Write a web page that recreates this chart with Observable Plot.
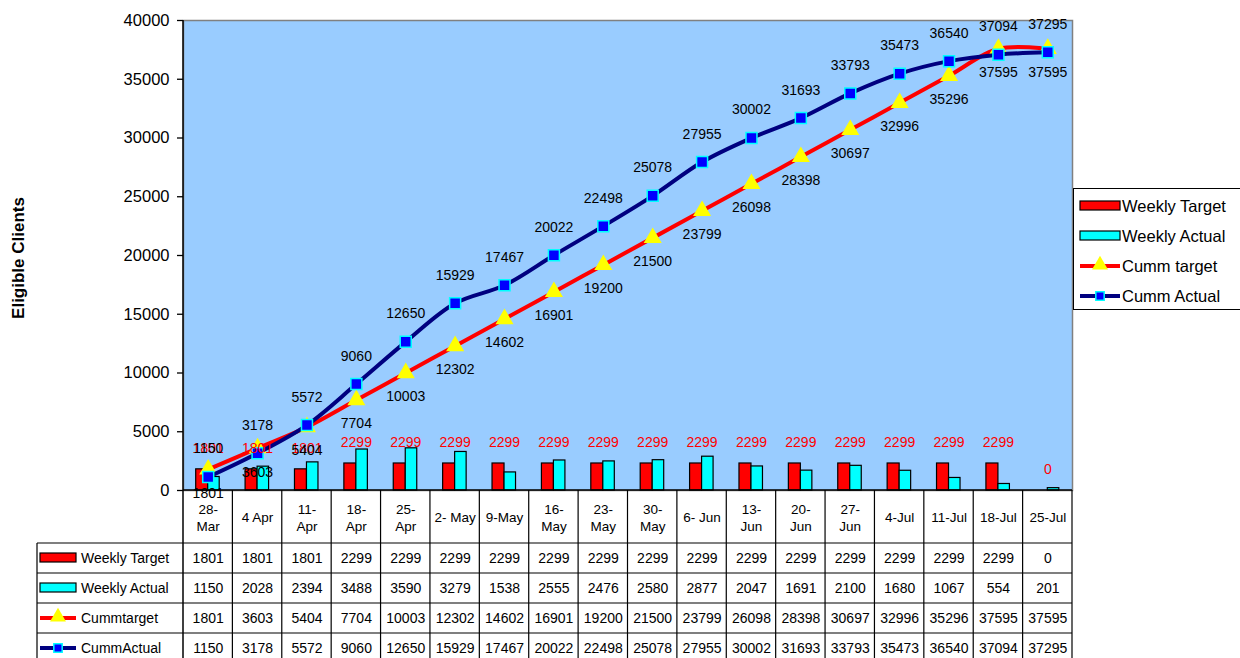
<!DOCTYPE html>
<html>
<head>
<meta charset="utf-8">
<script src="https://cdn.jsdelivr.net/npm/d3@7"></script>
<script src="https://cdn.jsdelivr.net/npm/@observablehq/plot@0.6"></script>
<style>
  html, body { margin: 0; padding: 0; background: #fff; }
  #chart { width: 1240px; height: 658px; overflow: hidden; }
</style>
</head>
<body>
<div id="chart"></div>
<script>
// ---- data ----
const categories = ["28-\nMar","4 Apr","11-\nApr","18-\nApr","25-\nApr","2- May","9-May","16-\nMay","23-\nMay","30-\nMay","6- Jun","13-\nJun","20-\nJun","27-\nJun","4-Jul","11-Jul","18-Jul","25-Jul"];
const weeklyTarget = [1801,1801,1801,2299,2299,2299,2299,2299,2299,2299,2299,2299,2299,2299,2299,2299,2299,0];
const weeklyActual = [1150,2028,2394,3488,3590,3279,1538,2555,2476,2580,2877,2047,1691,2100,1680,1067,554,201];
const cummTarget = [1801,3603,5404,7704,10003,12302,14602,16901,19200,21500,23799,26098,28398,30697,32996,35296,37595,37595];
const cummActual = [1150,3178,5572,9060,12650,15929,17467,20022,22498,25078,27955,30002,31693,33793,35473,36540,37094,37295];
const yTicks = [0,5000,10000,15000,20000,25000,30000,35000,40000];
const seriesNames = ["Weekly Target","Weekly Actual","Cumm target","Cumm Actual"];
const tableRowNames = ["Weekly Target","Weekly Actual","Cummtarget","CummActual"];
const yTitle = "Eligible Clients";

const rows = categories.map((c, i) => ({
  cat: c, wt: weeklyTarget[i], wa: weeklyActual[i], ct: cummTarget[i], ca: cummActual[i]
}));

// ---- layout / style ----
const W = 1240, H = 658;
const mL = 183, mR = 168, mT = 20, mB = 168;
const bw = (W - mL - mR) / categories.length;
const RED = "#ff0000", CYAN = "#00ffff", NAVY = "#000080", BLUE = "#0000ff", YELLOW = "#ffff00";
const FONT = "Liberation Sans, Arial, Helvetica, sans-serif";
const rowH = 30, headH = 53;

function swatch(g, x0, x1, yc, k) {
  if (k < 2) {
    g.append("rect").attr("x", x0).attr("y", yc - 5).attr("width", x1 - x0).attr("height", 9)
      .attr("fill", k === 0 ? RED : CYAN).attr("stroke", "#000").attr("stroke-width", 1.2);
  } else {
    g.append("line").attr("x1", x0).attr("x2", x1).attr("y1", yc).attr("y2", yc)
      .attr("stroke", k === 2 ? RED : NAVY).attr("stroke-width", 4);
    const xm = (x0 + x1) / 2;
    if (k === 2) {
      g.append("path").attr("d", d3.symbol(d3.symbolTriangle, 110)())
        .attr("transform", `translate(${xm},${yc - 1})`).attr("fill", YELLOW);
    } else {
      g.append("path").attr("d", d3.symbol(d3.symbolSquare, 70)())
        .attr("transform", `translate(${xm},${yc})`).attr("fill", BLUE).attr("stroke", CYAN).attr("stroke-width", 1.5);
    }
  }
}

function tableAndLegend(index, scales, values, dimensions) {
  const sx = (scales && scales.x) ? scales.x : (scales.scales && scales.scales.x);
  const left = dimensions.marginLeft;
  const right = dimensions.width - dimensions.marginRight;
  const bottom = dimensions.height - dimensions.marginBottom;
  const top = dimensions.marginTop;
  const g = d3.create("svg:g").attr("font-family", FONT).attr("text-anchor", "start");
  const tableBottom = dimensions.height + 5;
  // vertical column lines
  categories.forEach((c, i) => {
    if (i === 0) return;
    const x0 = sx(c);
    g.append("line").attr("x1", x0).attr("x2", x0).attr("y1", bottom).attr("y2", tableBottom)
      .attr("stroke", "#000").attr("stroke-width", 1.2);
  });
  g.append("line").attr("x1", right).attr("x2", right).attr("y1", bottom).attr("y2", tableBottom)
    .attr("stroke", "#000").attr("stroke-width", 1.2);
  // left border of label column
  g.append("line").attr("x1", 37).attr("x2", 37).attr("y1", bottom + headH).attr("y2", tableBottom)
    .attr("stroke", "#000").attr("stroke-width", 1.2);
  // horizontal lines
  for (let r = 0; r < 5; r++) {
    const y = bottom + headH + r * rowH;
    g.append("line").attr("x1", 37).attr("x2", right).attr("y1", y).attr("y2", y)
      .attr("stroke", "#000").attr("stroke-width", 1.2);
  }
  // axes lines
  g.append("line").attr("x1", left).attr("x2", right).attr("y1", bottom).attr("y2", bottom)
    .attr("stroke", "#000").attr("stroke-width", 1.5);
  g.append("line").attr("x1", left).attr("x2", left).attr("y1", top).attr("y2", tableBottom)
    .attr("stroke", "#000").attr("stroke-width", 1.5);
  // row labels with swatches
  tableRowNames.forEach((name, k) => {
    const yc = bottom + headH + k * rowH + rowH / 2;
    swatch(g, 40, 76, yc, k);
    g.append("text").attr("x", 81).attr("y", yc).attr("dy", "0.35em").attr("font-size", 14).text(name);
  });
  // legend
  g.append("rect").attr("x", 1073.5).attr("y", 188.5).attr("width", 175).attr("height", 121)
    .attr("fill", "#fff").attr("stroke", "#000").attr("stroke-width", 1);
  const ly = [206, 236, 266, 296];
  seriesNames.forEach((name, k) => {
    swatch(g, 1080, 1120, ly[k], k);
    g.append("text").attr("x", 1122).attr("y", ly[k]).attr("dy", "0.35em").attr("font-size", 16.5).text(name);
  });
  // y title
  g.append("text").attr("transform", `translate(24,258) rotate(-90)`)
    .attr("text-anchor", "middle").attr("font-weight", "bold").attr("font-size", 17).text(yTitle);
  return g.node();
}

const inset = bw / 2;
const plot = Plot.plot({
  width: W, height: H,
  marginLeft: mL, marginRight: mR, marginTop: mT, marginBottom: mB,
  style: { fontFamily: FONT, fontSize: "14px", background: "#fff", color: "#000", overflow: "visible" },
  x: { type: "band", domain: categories, padding: 0, round: false, axis: null },
  y: { domain: [0, 40000], axis: null },
  marks: [
    Plot.frame({ fill: "#99ccff", stroke: "#808080", strokeWidth: 1.5 }),
    Plot.barY(rows, { x: "cat", y: "wt", fill: RED, stroke: "#000", strokeWidth: 1.2,
      insetLeft: inset - 12, insetRight: inset }),
    Plot.barY(rows, { x: "cat", y: "wa", fill: CYAN, stroke: "#000", strokeWidth: 1.2,
      insetLeft: inset, insetRight: inset - 11.5 }),
    Plot.line(rows, { x: "cat", y: "ct", stroke: RED, strokeWidth: 4, curve: "catmull-rom" }),
    Plot.dot(rows, { x: "cat", y: "ct", symbol: "triangle", r: 6.7, fill: YELLOW, stroke: "none" }),
    Plot.line(rows, { x: "cat", y: "ca", stroke: NAVY, strokeWidth: 4, curve: "catmull-rom" }),
    Plot.dot(rows, { x: "cat", y: "ca", symbol: "square", r: 6.2, fill: BLUE, stroke: CYAN, strokeWidth: 1.5 }),
    Plot.text(rows, { x: "cat", y: "wt", text: d => String(d.wt), dy: -21, fill: RED, fontSize: 14, lineAnchor: "middle" }),
    Plot.text(rows, { x: "cat", y: "ct", text: d => String(d.ct), dy: 24, fill: "#000", fontSize: 14, lineAnchor: "middle" }),
    Plot.text(rows, { x: "cat", y: "ca", text: d => String(d.ca), dy: -28, fill: "#000", fontSize: 14, lineAnchor: "middle" }),
    Plot.axisY({ ticks: yTicks, tickFormat: d => String(d), tickSize: 6, tickPadding: 8, fontSize: 16.5, label: null, stroke: "#000", strokeWidth: 1.3 }),
    // table header and cells
    Plot.text(rows, { x: "cat", text: "cat", frameAnchor: "bottom", dy: headH / 2, fontSize: 13.5, lineAnchor: "middle", lineHeight: 1.25 }),
    Plot.text(rows, { x: "cat", text: d => String(d.wt), frameAnchor: "bottom", dy: headH + rowH * 0.5, fontSize: 14, lineAnchor: "middle" }),
    Plot.text(rows, { x: "cat", text: d => String(d.wa), frameAnchor: "bottom", dy: headH + rowH * 1.5, fontSize: 14, lineAnchor: "middle" }),
    Plot.text(rows, { x: "cat", text: d => String(d.ct), frameAnchor: "bottom", dy: headH + rowH * 2.5, fontSize: 14, lineAnchor: "middle" }),
    Plot.text(rows, { x: "cat", text: d => String(d.ca), frameAnchor: "bottom", dy: headH + rowH * 3.5, fontSize: 14, lineAnchor: "middle" }),
    tableAndLegend
  ]
});
document.getElementById("chart").appendChild(plot);
</script>
</body>
</html>
